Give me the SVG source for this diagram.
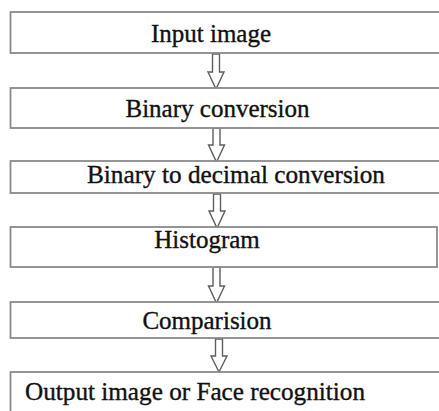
<svg xmlns="http://www.w3.org/2000/svg" width="439" height="411" viewBox="0 0 439 411">
<defs>
<style>
.box{fill:#fff;stroke:#8a8a8a;stroke-width:1.8}
.lbl{font-family:"Liberation Serif","Times New Roman",serif;font-size:25px;fill:#111;stroke:#111;stroke-width:0.35}
.arr{fill:#fff;stroke:#5e5e5e;stroke-width:1.4;stroke-linejoin:miter}
</style>
</defs>
<rect width="439" height="411" fill="#fff"/>
<g id="connectors">
<polygon class="arr" points="212.5,54 219.5,54 219.5,72 224,72 216,89 208,72 212.5,72"/>
<polygon class="arr" points="213,128 220,128 220,145 224.5,145 216.5,162 208.5,145 213,145"/>
<polygon class="arr" points="213.5,194 220.5,194 220.5,211 225,211 217,228 209,211 213.5,211"/>
<polygon class="arr" points="213,267 220,267 220,286 224.5,286 216.5,303 208.5,286 213,286"/>
<polygon class="arr" points="215.5,339 222.5,339 222.5,356 227,356 219,372 211,356 215.5,356"/>
</g>
<g id="n1"><rect class="box" x="10.5" y="12" width="440" height="41"/><text class="lbl" x="211" y="42" text-anchor="middle">Input image</text></g>
<g id="n2"><rect class="box" x="10.5" y="88" width="440" height="40"/><text class="lbl" x="217.5" y="117" text-anchor="middle">Binary conversion</text></g>
<g id="n3"><rect class="box" x="10.5" y="161" width="440" height="32"/><text class="lbl" x="236" y="183" text-anchor="middle" textLength="298" lengthAdjust="spacingAndGlyphs">Binary to decimal conversion</text></g>
<g id="n4"><rect class="box" x="10.5" y="227" width="426.5" height="40"/><text class="lbl" x="207" y="248" text-anchor="middle">Histogram</text></g>
<g id="n5"><rect class="box" x="10.5" y="302" width="440" height="36"/><text class="lbl" x="207" y="329" text-anchor="middle">Comparision</text></g>
<g id="n6"><rect class="box" x="10.5" y="372" width="440" height="60"/><text class="lbl" x="25" y="400" textLength="340" lengthAdjust="spacingAndGlyphs">Output image or Face recognition</text></g>
</svg>
